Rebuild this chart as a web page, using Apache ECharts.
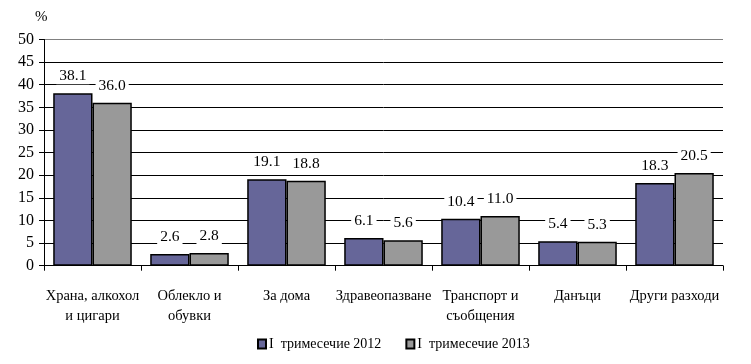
<!DOCTYPE html>
<html><head><meta charset="utf-8">
<script src="https://cdn.jsdelivr.net/npm/echarts@6/dist/echarts.min.js"></script>
<style>html,body{margin:0;padding:0;background:#fff}#c{width:751px;height:364px}</style>
</head><body><div id="c"></div>
<script>
const categories = ['Храна, алкохол\nи цигари', 'Облекло и\nобувки', 'За дома', 'Здравеопазване', 'Транспорт и\nсъобщения', 'Данъци', 'Други разходи'];
const series2012 = [38.1, 2.6, 19.1, 6.1, 10.4, 5.4, 18.3];
const series2013 = [36.0, 2.8, 18.8, 5.6, 11.0, 5.3, 20.5];
const seriesNames = ['I  тримесечие 2012', 'I  тримесечие 2013'];
const FONT = '"Liberation Serif", "Times New Roman", serif';
const chart = echarts.init(document.getElementById('c'), null, {renderer: 'canvas'});
const lbl = {
  show: true, position: 'top', distance: 9,
  fontFamily: FONT, fontSize: 15.5, color: '#000',
  backgroundColor: '#fff', padding: [0, 3],
  formatter: p => p.value.toFixed(1)
};
const splitColors = ['#000','#000','#000','#000','#000','#000','#000','#000','#000','#000','#808080'];
chart.setOption({
  animation: false,
  textStyle: {fontFamily: FONT},
  graphic: [{type: 'text', left: 35, top: 10, style: {text: '%', font: '15px ' + FONT, fill: '#000'}}],
  grid: {left: 44, right: 28, top: 39.5, bottom: 98.3, containLabel: false},
  legend: {
    bottom: 8, left: 252, itemWidth: 8, itemHeight: 9, itemGap: 24,
    textStyle: {fontFamily: FONT, fontSize: 14, color: '#000', padding: [0, 0, 0, -2]},
    icon: 'rect',
    data: seriesNames
  },
  xAxis: {
    type: 'category', data: categories,
    axisLine: {lineStyle: {color: '#000', width: 1}},
    axisTick: {show: true, length: 5, lineStyle: {color: '#000'}},
    axisLabel: {fontFamily: FONT, fontSize: 14.5, color: '#000', margin: 20, lineHeight: 20, interval: 0}
  },
  yAxis: {
    type: 'value', min: 0, max: 50, interval: 5,
    axisLine: {show: true, lineStyle: {color: '#000', width: 1}},
    axisTick: {show: true, length: 5, lineStyle: {color: '#000'}},
    axisLabel: {fontFamily: FONT, fontSize: 16, color: '#000', margin: 10},
    splitLine: {show: true, lineStyle: {color: splitColors, width: 1}}
  },
  series: [
    {name: seriesNames[0], type: 'bar', data: series2012, barGap: '0%', barCategoryGap: '19%',
     itemStyle: {color: '#666699', borderColor: '#000', borderWidth: 1.5}, label: lbl},
    {name: seriesNames[1], type: 'bar', data: series2013,
     itemStyle: {color: '#999999', borderColor: '#000', borderWidth: 1.5}, label: lbl}
  ]
});
</script></body></html>
